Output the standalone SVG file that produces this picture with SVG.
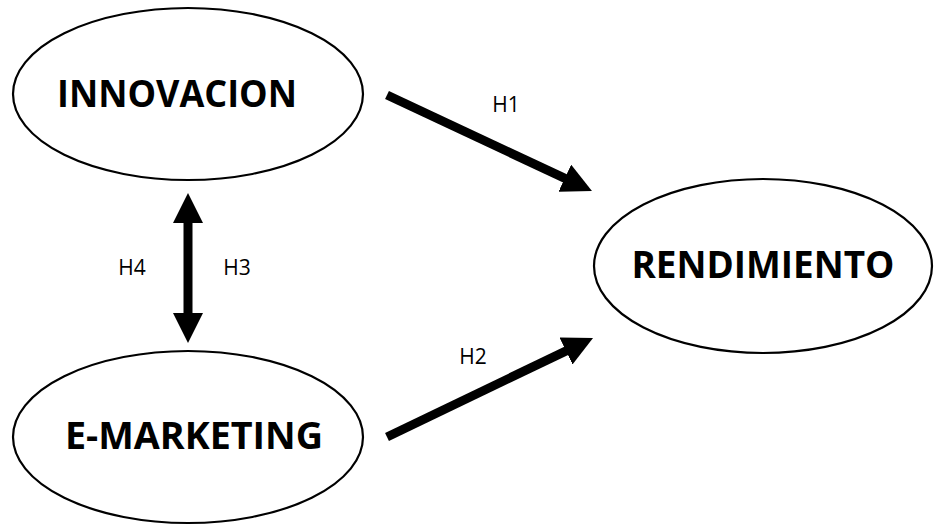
<svg xmlns="http://www.w3.org/2000/svg" width="935" height="527" viewBox="0 0 935 527">
  <defs>
    <marker id="head" viewBox="0 0 30 30" markerUnits="userSpaceOnUse" markerWidth="30" markerHeight="30" refX="2" refY="15" orient="auto-start-reverse">
      <path d="M0,0 L30,15 L0,30 z" fill="#000"/>
    </marker>
    <style>
      .node ellipse { fill: #fff; stroke: #000; stroke-width: 2.2; }
      .title { font-family: "Open Sans", "Noto Sans", sans-serif; font-weight: bold; font-size: 38px; fill: #000; text-anchor: middle; }
      .lbl { font-family: "Open Sans", "Noto Sans", sans-serif; font-size: 21px; fill: #000; text-anchor: middle; }
      .conn line { stroke: #000; stroke-width: 9; fill: none; }
    </style>
  </defs>
  <rect width="935" height="527" fill="#fff"/>

  <g id="innovacion" class="node">
    <ellipse cx="188" cy="94" rx="175" ry="86"/>
    <text class="title" x="177" y="107" textLength="240" lengthAdjust="spacingAndGlyphs">INNOVACION</text>
  </g>
  <g id="emarketing" class="node">
    <ellipse cx="188" cy="437" rx="175" ry="86"/>
    <text class="title" x="194" y="449" textLength="258" lengthAdjust="spacingAndGlyphs">E-MARKETING</text>
  </g>
  <g id="rendimiento" class="node">
    <ellipse cx="763" cy="266" rx="169" ry="87"/>
    <text class="title" x="763" y="278" textLength="263" lengthAdjust="spacingAndGlyphs">RENDIMIENTO</text>
  </g>

  <g id="connectors" class="conn">
    <line x1="387" y1="95" x2="566.6" y2="179.1" marker-end="url(#head)"/>
    <line x1="387" y1="437" x2="567.8" y2="350.1" marker-end="url(#head)"/>
    <line x1="188" y1="221" x2="188" y2="315" marker-start="url(#head)" marker-end="url(#head)"/>
  </g>

  <g id="labels">
    <text class="lbl" x="506" y="112">H1</text>
    <text class="lbl" x="473" y="364">H2</text>
    <text class="lbl" x="237" y="275">H3</text>
    <text class="lbl" x="132" y="275">H4</text>
  </g>
</svg>
